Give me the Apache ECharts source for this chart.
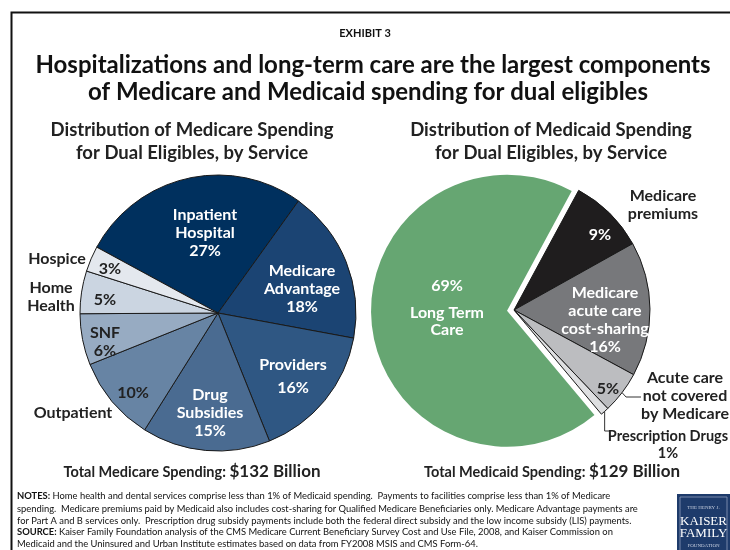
<!DOCTYPE html>
<html><head><meta charset="utf-8">
<script src="https://cdn.jsdelivr.net/npm/echarts@6/dist/echarts.min.js"></script>
<style>html,body{margin:0;padding:0;background:#fff}#c{width:730px;height:550px}</style>
</head><body><div id="c"></div>
<script>
// ---- data ----
const medicareCategories = ['Inpatient Hospital','Medicare Advantage','Providers','Drug Subsidies','Outpatient','SNF','Home Health','Hospice'];
const medicareValues = [27,18,16,15,10,6,5,3];
const medicareInnerNames = ['Inpatient\nHospital','Medicare\nAdvantage','Providers','Drug\nSubsidies','','SNF','',''];
const medicareOuterNames = ['','','','','Outpatient','','Home\nHealth','Hospice'];

const medicaidCategories = ['Long Term Care','Medicare premiums','Medicare acute care cost-sharing','Acute care not covered by Medicare','Prescription Drugs'];
const medicaidValues = [69,9,16,5,1];
const medicaidInnerNames = ['','','Medicare\nacute care\ncost-sharing','',''];
const medicaidOuterNames = ['Long Term\nCare','Medicare\npremiums','','Acute care\nnot covered\nby Medicare','Prescription Drugs'];

const medicareTotal = '$132 Billion';
const medicaidTotal = '$129 Billion';

// ---- styles / layout ----
const FONT = 'Lato, "Open Sans", sans-serif';
const medicareColors = ['#00305e','#1b4473','#2f5783','#4a6b91','#6784a4','#97abc2','#cbd5e1','#e4e8ee'];
const medicareTextColors = ['#fff','#fff','#fff','#fff','#222','#222','#222','#222'];
const medicaidColors = ['#66a672','#1f1d1e','#77787b','#bcbdc0','#dedfe1'];
const medicaidTextColors = ['#fff','#fff','#fff','#222','#222'];
const medicaidOuterTextColors = ['#fff','#222','#222','#222','#222'];
const TRANSPARENT = 'rgba(0,0,0,0)';

const L = {c:[218,313], r:138, start:151.5};
const R = {c:[514,310], r:136, start:310};
const EXPLODE = 7; // px the long-term-care slice is pulled out

const medicareInnerPos = [[205,233],[302,289],[293,376],[210,413],[133,393],[105,342],[105,300],[110,269]];
const medicareOuterPos = [null,null,null,null,[73,413],null,[51,297],[57,259]];
const medicaidInnerPos = [[447,286],[600,235],[605,320],[608,389],null];
const medicaidOuterPos = [[447,321.5],[663,205],null,[685,396],[668,445]];

const baseLabel = {fontFamily: FONT, fontWeight: 'bold', fontSize: 16, lineHeight: 18};

// centre of the exploded slice, moved along its own mid angle
const medicaidSum = medicaidValues.reduce((a, b) => a + b, 0);
const ltcMid = (R.start - medicaidValues[0] / medicaidSum * 180) * Math.PI / 180;
const Rx = [R.c[0] + EXPLODE * Math.cos(ltcMid), R.c[1] - EXPLODE * Math.sin(ltcMid)];

const chart = echarts.init(document.getElementById('c'), null, {renderer: 'canvas'});

function posLayout(posArr, extra) {
  return function (p) {
    const pos = posArr[p.dataIndex];
    if (!pos) return {};
    const o = {x: pos[0], y: pos[1], align: 'center', verticalAlign: 'middle'};
    if (extra) Object.assign(o, extra(p) || {});
    return o;
  };
}

const medicareData = medicareCategories.map((n, i) => ({
  name: n, value: medicareValues[i],
  itemStyle: {color: medicareColors[i]},
  label: Object.assign({}, baseLabel, {color: medicareTextColors[i], lineHeight: i === 2 ? 23 : 18})
}));
const medicareOuterData = medicareCategories.map((n, i) => ({
  name: n, value: medicareValues[i],
  label: {show: !!medicareOuterNames[i]}
}));

// slices that stay at the centre
const medicaidData = medicaidCategories.map((n, i) => ({
  name: n, value: medicaidValues[i],
  itemStyle: i === 0 ? {color: TRANSPARENT, borderWidth: 0} : {color: medicaidColors[i], borderWidth: 1, borderColor: '#1a1a1a'},
  label: Object.assign({}, baseLabel, {color: medicaidTextColors[i], show: i !== 0 && i !== 4})
}));
// the exploded slice
const medicaidExplodedData = medicaidCategories.map((n, i) => ({
  name: n, value: medicaidValues[i],
  itemStyle: i === 0 ? {color: medicaidColors[i], borderWidth: 0} : {color: TRANSPARENT, borderWidth: 0},
  label: Object.assign({}, baseLabel, {color: medicaidTextColors[i], show: i === 0})
}));
const medicaidOuterData = medicaidCategories.map((n, i) => ({
  name: n, value: medicaidValues[i],
  label: Object.assign({show: !!medicaidOuterNames[i], color: medicaidOuterTextColors[i]},
    i === 4 ? {fontSize: 14.5, lineHeight: 17} : {}, i === 0 ? {lineHeight: 17} : {}),
  labelLine: {show: i === 3 || i === 4}
}));

const notes = [
  ['NOTES:', ' Home health and dental services comprise less than 1% of Medicaid spending.  Payments to facilities comprise less than 1% of Medicare'],
  ['', 'spending.  Medicare premiums paid by Medicaid also includes cost-sharing for Qualified Medicare Beneficiaries only. Medicare Advantage payments are'],
  ['', 'for Part A and B services only.  Prescription drug subsidy payments include both the federal direct subsidy and the low income subsidy (LIS) payments.'],
  ['SOURCE:', ' Kaiser Family Foundation analysis of the CMS Medicare Current Beneficiary Survey Cost and Use File, 2008, and Kaiser Commission on'],
  ['', 'Medicaid and the Uninsured and Urban Institute estimates based on data from FY2008 MSIS and CMS Form-64.']
];
const noteY = [496, 508.5, 520.5, 532, 543.5];
const NOTE_FONT = FONT;

const graphics = [
  {type: 'polyline', shape: {points: [[730,12.5],[11.5,12.5],[11.5,550]]}, style: {stroke: '#111', lineWidth: 2, fill: null}},
  {type: 'text', x: 365, y: 33, style: {text: 'EXHIBIT 3', font: 'bold 11px ' + FONT, fill: '#111', align: 'center', verticalAlign: 'middle'}},
  {type: 'text', x: 373, y: 65, style: {text: 'Hospitalizations and long-term care are the largest components', font: 'bold 24px ' + FONT, fill: '#111', align: 'center', verticalAlign: 'middle'}},
  {type: 'text', x: 368, y: 92, style: {text: 'of Medicare and Medicaid spending for dual eligibles', font: 'bold 24px ' + FONT, fill: '#111', align: 'center', verticalAlign: 'middle'}},
  {type: 'text', x: 192, y: 130, style: {text: 'Distribution of Medicare Spending', font: 'bold 18.5px ' + FONT, fill: '#222', align: 'center', verticalAlign: 'middle'}},
  {type: 'text', x: 192, y: 153, style: {text: 'for Dual Eligibles, by Service', font: 'bold 18.5px ' + FONT, fill: '#222', align: 'center', verticalAlign: 'middle'}},
  {type: 'text', x: 551, y: 130, style: {text: 'Distribution of Medicaid Spending', font: 'bold 18.5px ' + FONT, fill: '#222', align: 'center', verticalAlign: 'middle'}},
  {type: 'text', x: 551, y: 153, style: {text: 'for Dual Eligibles, by Service', font: 'bold 18.5px ' + FONT, fill: '#222', align: 'center', verticalAlign: 'middle'}},
  {type: 'text', x: 192, y: 472, style: {text: '{a|Total Medicare Spending: }{b|' + medicareTotal + '}', rich: {a: {font: 'bold 14.5px ' + FONT, fill: '#222'}, b: {font: 'bold 17px ' + FONT, fill: '#222'}}, align: 'center', verticalAlign: 'middle'}},
  {type: 'text', x: 552, y: 472, style: {text: '{a|Total Medicaid Spending: }{b|' + medicaidTotal + '}', rich: {a: {font: 'bold 14.5px ' + FONT, fill: '#222'}, b: {font: 'bold 17px ' + FONT, fill: '#222'}}, align: 'center', verticalAlign: 'middle'}},
  // logo
  {type: 'rect', shape: {x: 677, y: 494, width: 53, height: 56}, style: {fill: '#1e3b6b'}},
  {type: 'rect', shape: {x: 680, y: 497, width: 47, height: 60}, style: {fill: null, stroke: '#8e9dbb', lineWidth: 0.8}},
  {type: 'text', x: 703.5, y: 508, style: {text: 'THE HENRY J.', font: '5px "Liberation Serif", serif', fill: '#c8d0e0', align: 'center', verticalAlign: 'middle'}},
  {type: 'text', x: 703.5, y: 522, style: {text: 'KAISER', font: '13px "Liberation Serif", serif', fill: '#ffffff', align: 'center', verticalAlign: 'middle'}},
  {type: 'text', x: 703.5, y: 534, style: {text: 'FAMILY', font: '13px "Liberation Serif", serif', fill: '#ffffff', align: 'center', verticalAlign: 'middle'}},
  {type: 'text', x: 703.5, y: 545.5, style: {text: 'FOUNDATION', font: '5px "Liberation Serif", serif', fill: '#c8d0e0', align: 'center', verticalAlign: 'middle'}}
];
notes.forEach((n, i) => {
  graphics.push({type: 'text', x: 17, y: noteY[i], style: {
    text: (n[0] ? '{b|' + n[0] + '}' : '') + '{r|' + n[1] + '}',
    rich: {b: {font: 'bold 9.4px ' + NOTE_FONT, fill: '#111'}, r: {font: '9.4px ' + NOTE_FONT, fill: '#111'}},
    align: 'left', verticalAlign: 'middle'}});
});

const pctFormatter = names => p => (names[p.dataIndex] ? names[p.dataIndex] + '\n' : '') + p.value + '%';

const option = {
  animation: false,
  backgroundColor: '#fff',
  graphic: graphics,
  series: [
    {
      type: 'pie', center: L.c, radius: L.r, startAngle: L.start, clockwise: true,
      avoidLabelOverlap: false, emphasis: {disabled: true}, silent: true,
      itemStyle: {borderColor: '#1a1a1a', borderWidth: 1},
      label: {show: true, position: 'inside', formatter: pctFormatter(medicareInnerNames)},
      labelLine: {show: false},
      labelLayout: posLayout(medicareInnerPos),
      data: medicareData
    },
    {
      type: 'pie', center: L.c, radius: L.r, startAngle: L.start, clockwise: true,
      avoidLabelOverlap: false, emphasis: {disabled: true}, silent: true, z: 3,
      itemStyle: {color: TRANSPARENT, borderWidth: 0},
      label: Object.assign({}, baseLabel, {position: 'outside', color: '#222',
        formatter: p => medicareOuterNames[p.dataIndex]}),
      labelLine: {show: false},
      labelLayout: posLayout(medicareOuterPos),
      data: medicareOuterData
    },
    {
      type: 'pie', center: R.c, radius: R.r, startAngle: R.start, clockwise: true,
      avoidLabelOverlap: false, emphasis: {disabled: true}, silent: true,
      label: {show: true, position: 'inside', formatter: pctFormatter(medicaidInnerNames)},
      labelLine: {show: false},
      labelLayout: posLayout(medicaidInnerPos),
      data: medicaidData
    },
    {
      type: 'pie', center: Rx, radius: R.r, startAngle: R.start, clockwise: true,
      avoidLabelOverlap: false, emphasis: {disabled: true}, silent: true,
      label: {show: true, position: 'inside', formatter: p => p.value + '%'},
      labelLine: {show: false},
      labelLayout: posLayout(medicaidInnerPos),
      data: medicaidExplodedData
    },
    {
      type: 'pie', center: R.c, radius: R.r, startAngle: R.start, clockwise: true,
      avoidLabelOverlap: false, emphasis: {disabled: true}, silent: true, z: 3,
      itemStyle: {color: TRANSPARENT, borderWidth: 0},
      label: Object.assign({}, baseLabel, {position: 'outside', color: '#222',
        formatter: p => medicaidOuterNames[p.dataIndex] + (p.dataIndex === 4 ? '\n' + p.value + '%' : '')}),
      labelLine: {show: false, length: 10, length2: 10, lineStyle: {color: '#333', width: 1}},
      labelLayout: posLayout(medicaidOuterPos, p => {
        const pts = p.labelLinePoints;
        if (!pts) return {};
        const s = pts[0];
        if (p.dataIndex === 3) return {labelLinePoints: [[s[0], s[1]], [s[0] + 4, 397], [641, 397]]};
        if (p.dataIndex === 4) return {labelLinePoints: [[s[0], s[1]], [s[0], 431], [609, 431]]};
        return {};
      }),
      data: medicaidOuterData
    }
  ]
};
chart.setOption(option);
</script>
</body></html>
